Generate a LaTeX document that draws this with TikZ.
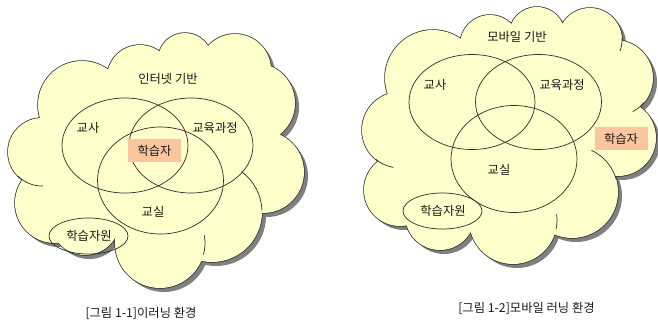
\documentclass[tikz,border=0pt]{standalone}
\usepackage{fontspec}
\newfontfamily\kr{Noto Sans CJK KR}
\usetikzlibrary{shapes.geometric}
\definecolor{cloudfill}{RGB}{255,255,204}
\definecolor{shadowc}{RGB}{128,128,128}
\definecolor{peach}{RGB}{250,198,160}
\definecolor{linec}{RGB}{45,45,45}
\definecolor{textc}{RGB}{25,25,25}
\begin{document}
\begin{tikzpicture}[x=1pt,y=1pt,
  venn/.style={ellipse, draw=linec, line width=0.7pt, inner sep=0pt},
  lbl/.style={font=\kr\fontsize{12.3}{14}\selectfont, text=textc, inner sep=1pt},
  learner/.style={lbl, fill=peach, minimum width=53pt, minimum height=23pt, inner sep=0pt},
  tail/.style={draw=linec, line width=0.7pt}]
\useasboundingbox (0,0) rectangle (658,-322);
\fill[white] (0,0) rectangle (658,-322);
% bump lists: x / y(down) / radius, in order round each cloud
\def\cloudA{42/152/34, 55/203/40, 85/220/35, 160/243/45, 212/212/50, 263/172/41, 255/103/40, 235/70/36, 185/60/27, 140/78/33, 82/105/44}
\def\cloudB{400/130/38, 400/190/36, 440/215/35, 513/220/44, 572/192/46, 618/138/38, 615/78/38, 590/40/32, 537/35/28, 490/45/30, 433/78/48}
\def\coreA{(42,-152) -- (55,-203) -- (85,-220) -- (160,-243) -- (212,-212) -- (263,-172) -- (255,-103) -- (235,-70) -- (185,-60) -- (140,-78) -- (82,-105) -- cycle}
\def\coreB{(400,-130) -- (400,-190) -- (440,-215) -- (513,-220) -- (572,-192) -- (618,-138) -- (615,-78) -- (590,-40) -- (537,-35) -- (490,-45) -- (433,-78) -- cycle}
% shadows
\foreach \x/\y/\r in \cloudA {\fill[shadowc] ({\x+4},{-\y-4}) circle[radius=\r pt];}
\foreach \x/\y/\r in \cloudB {\fill[shadowc] ({\x+4},{-\y-4}) circle[radius=\r pt];}
\begin{scope}[shift={(4,-4)}]
  \fill[shadowc] \coreA;
  \fill[shadowc] \coreB;
\end{scope}
% outlines
\foreach \x/\y/\r in \cloudA {\draw[linec, line width=1.5pt] (\x,-\y) circle[radius=\r pt];}
\foreach \x/\y/\r in \cloudB {\draw[linec, line width=1.5pt] (\x,-\y) circle[radius=\r pt];}
% fills
\foreach \x/\y/\r in \cloudA {\fill[cloudfill] (\x,-\y) circle[radius=\r pt];}
\foreach \x/\y/\r in \cloudB {\fill[cloudfill] (\x,-\y) circle[radius=\r pt];}
\fill[cloudfill] \coreA;
\fill[cloudfill] \coreB;
% inner tails of the cloud bumps
\path[tail] (42,-152) ++(-135:34pt) arc[start angle=-135, end angle=-88, radius=34pt];
\path[tail] (212,-212) ++(54:50pt) arc[start angle=54, end angle=2, radius=50pt];
\path[tail] (160,-243) ++(-15:45pt) arc[start angle=-15, end angle=10, radius=45pt];
\path[tail] (590,-40) ++(3:32pt) arc[start angle=3, end angle=-20, radius=32pt];
\path[tail] (615,-78) ++(-40:38pt) arc[start angle=-40, end angle=-62, radius=38pt];
\path[tail] (572,-192) ++(65:46pt) arc[start angle=65, end angle=16, radius=46pt];
\path[tail] (400,-130) ++(-130:38pt) arc[start angle=-130, end angle=-100, radius=38pt];
\path[tail] (513,-220) ++(-12:44pt) arc[start angle=-12, end angle=8, radius=44pt];

% ---- left figure ----
\node[venn, minimum width=126pt, minimum height=95pt] (tA) at (125,-145.5) {};
\node[venn, minimum width=124pt, minimum height=95pt] (cA) at (191,-145.5) {};
\node[venn, minimum width=126pt, minimum height=107pt] (rA) at (160.5,-180.5) {};
\node[venn, minimum width=79pt, minimum height=36pt] (sA) at (88.5,-236) {};
\node[lbl] (baseA) at (168,-79) {인터넷 기반};
\node[lbl] (tlA) at (88,-128) {교사};
\node[lbl] (clA) at (215,-128) {교육과정};
\node[lbl] (rlA) at (153,-212) {교실};
\node[lbl] (slA) at (89,-236) {학습자원};
\node[learner] (lA) at (154.5,-150.5) {학습자};
\node[lbl] (capA) at (141,-313) {[그림 1-1]이러닝 환경};

% ---- right figure ----
\node[venn, minimum width=126pt, minimum height=95pt] (tB) at (472,-102) {};
\node[venn, minimum width=126pt, minimum height=95pt] (cB) at (538.5,-102) {};
\node[venn, minimum width=126pt, minimum height=107pt] (rB) at (514,-159) {};
\node[venn, minimum width=79pt, minimum height=36pt] (sB) at (442.5,-211) {};
\node[lbl] (baseB) at (517,-37) {모바일 기반};
\node[lbl] (tlB) at (435,-85) {교사};
\node[lbl] (clB) at (562,-85) {교육과정};
\node[lbl] (rlB) at (499,-170) {교실};
\node[lbl] (slB) at (443,-211) {학습자원};
\node[learner] (lB) at (621,-138.5) {학습자};
\node[lbl] (capB) at (526.5,-308) {[그림 1-2]모바일 러닝 환경};
\end{tikzpicture}
\end{document}
